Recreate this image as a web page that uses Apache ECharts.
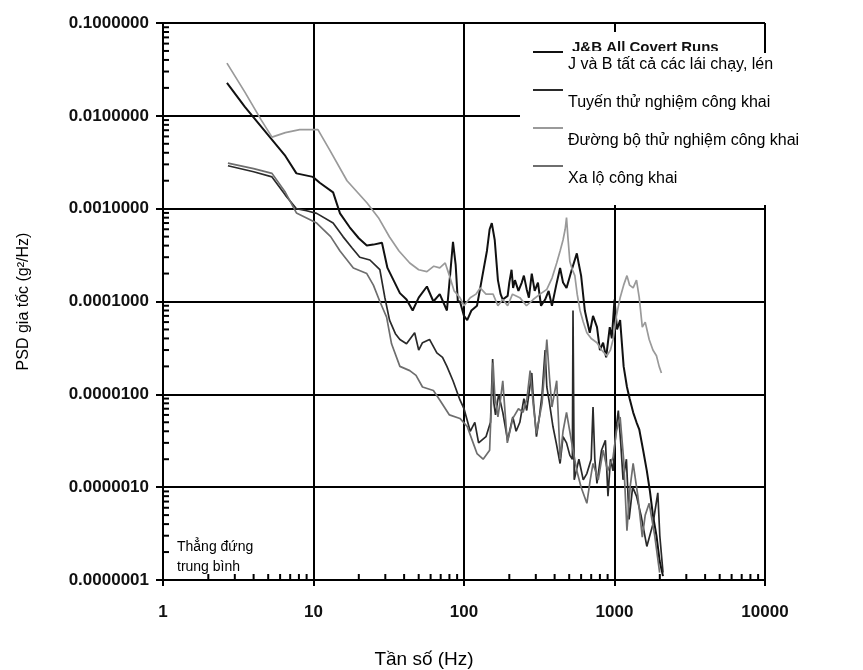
<!DOCTYPE html>
<html><head><meta charset="utf-8">
<script src="https://cdn.jsdelivr.net/npm/echarts@6/dist/echarts.min.js"></script>
<style>html,body{margin:0;padding:0;background:#fff}#c{width:863px;height:670px}</style>
</head><body><div id="c"></div>
<script>
const seriesNames = ['J và B tất cả các lái chạy, lén', 'Tuyến thử nghiệm công khai', 'Đường bộ thử nghiệm công khai', 'Xa lộ công khai'];
const hiddenTitle = 'J&B All Covert Runs';
const noteLines = ['Thẳng đứng', 'trung bình'];
const xAxisName = 'Tần số (Hz)';
const yAxisName = 'PSD gia tốc (g²/Hz)';

// [Hz, g^2/Hz]
const sJB = [[2.66,0.0226],[3.5,0.0125],[5,0.0062],[6.5,0.0037],[7.7,0.0024],[9.9,0.0022],[11,0.0019],[13.5,0.0015],[15,0.00089],[17.4,0.00063],[20,0.00048],[22.6,0.0004],[25,0.00041],[28.5,0.00043],[31,0.00023],[34,0.00017],[37.5,0.000123],[41.5,0.000105],[45.6,0.00008],[50,0.00011],[56.7,0.000145],[62.6,0.0001],[69,0.00012],[77,0.00008],[81,0.0002],[84.5,0.00044],[88,0.00025],[91,0.0001],[94,0.0001],[100,0.00007],[105,0.000063],[112,0.00008],[122,0.00009],[131,0.00017],[142,0.00035],[148,0.0006],[153,0.0007],[160,0.00046],[168,0.00017],[175,0.00012],[181,0.000105],[195,0.000115],[200,0.00016],[207,0.00022],[212,0.00014],[218,0.00017],[230,0.00013],[242,0.00016],[250,0.00019],[261,0.000135],[270,0.00011],[282,0.0002],[295,0.00013],[310,0.00016],[325,0.00009],[346,0.000105],[365,0.00013],[384,0.00009],[410,0.00015],[435,0.00023],[455,0.00016],[480,0.00014],[520,0.00022],[562,0.00033],[580,0.00025],[600,0.00019],[635,0.00008],[660,0.00006],[685,0.000046],[720,0.00007],[765,0.000053],[800,0.00003],[840,0.000036],[880,0.000025],[930,0.000053],[960,0.00004],[1000,0.000105],[1040,0.00005],[1090,0.000063],[1150,0.00002],[1210,0.000012],[1260,0.000009],[1330,0.0000064],[1400,0.000005],[1460,0.0000042],[1550,0.0000025],[1640,0.0000015],[1720,0.0000009],[1800,0.0000005],[1900,0.0000003],[1995,0.00000016],[2100,0.00000011]];

const sTuyen = [[2.7,0.0029],[4,0.0025],[5.3,0.0022],[6.5,0.0014],[7.7,0.001],[9,0.00095],[10.5,0.00089],[13.5,0.0007],[15.7,0.0005],[18,0.00038],[20.3,0.0003],[23.7,0.00028],[27.6,0.00022],[29.8,0.00011],[32,0.000063],[35,0.000045],[37.5,0.000039],[41.5,0.000035],[47,0.000046],[50,0.00003],[53,0.000036],[59,0.000039],[66,0.000028],[72,0.000025],[77,0.00002],[84.5,0.000014],[94,0.0000087],[100,0.000007],[110,0.000004],[118,0.000005],[125,0.000003],[140,0.0000035],[150,0.000005],[155,0.000024],[158,0.000008],[162,0.000006],[170,0.00001],[181,0.0000064],[195,0.0000032],[211,0.0000057],[222,0.000004],[235,0.000005],[250,0.000009],[261,0.0000067],[282,0.000017],[290,0.000008],[303,0.0000035],[318,0.000006],[330,0.00001],[346,0.00003],[355,0.000012],[370,0.000008],[390,0.0000045],[410,0.000003],[435,0.0000018],[455,0.0000035],[480,0.000003],[505,0.0000022],[525,0.000002],[530,0.00008],[540,0.0000012],[580,0.000002],[620,0.0000012],[655,0.0000014],[700,0.000002],[720,0.0000073],[740,0.000002],[765,0.0000011],[820,0.0000025],[870,0.0000032],[905,0.0000008],[940,0.000002],[978,0.0000015],[1020,0.000004],[1060,0.0000067],[1100,0.000003],[1140,0.0000012],[1200,0.000002],[1250,0.00000045],[1320,0.000001],[1400,0.0000008],[1500,0.0000005],[1640,0.00000023],[1800,0.0000004],[1940,0.00000087],[2000,0.0000003],[2100,0.00000012]];

const sDuongBo = [[2.66,0.037],[3.5,0.018],[4.5,0.009],[5.3,0.0059],[6.5,0.0066],[8.1,0.0071],[10.7,0.0071],[12.8,0.0043],[16.7,0.002],[22.7,0.00115],[27,0.0008],[32,0.000495],[37,0.00035],[43.6,0.00026],[50,0.00022],[56.7,0.00021],[63,0.00024],[69,0.00023],[75,0.00026],[80,0.00019],[86,0.00013],[94,0.00011],[100,0.00009],[110,0.00011],[120,0.00012],[128,0.00014],[140,0.00012],[156,0.00012],[168,0.00009],[181,0.000105],[195,0.00009],[210,0.00012],[235,0.00011],[260,0.00009],[288,0.000105],[320,0.00012],[355,0.000135],[385,0.00018],[413,0.00026],[435,0.00035],[455,0.00046],[470,0.0006],[480,0.0008],[490,0.0005],[505,0.00027],[525,0.00022],[545,0.00019],[565,0.00012],[590,0.00008],[620,0.00006],[655,0.000046],[700,0.00004],[765,0.000036],[820,0.00003],[890,0.000026],[940,0.00003],[978,0.000039],[1030,0.00007],[1090,0.00011],[1150,0.00015],[1210,0.00019],[1260,0.00015],[1330,0.00014],[1400,0.00017],[1460,0.00011],[1530,0.000053],[1600,0.00006],[1700,0.000039],[1800,0.00003],[1900,0.000026],[1980,0.00002],[2050,0.000017]];

const sXaLo = [[2.7,0.0031],[4,0.0027],[5.3,0.0024],[6.5,0.0015],[7.7,0.0009],[10.5,0.0007],[13,0.0005],[15,0.00035],[18.4,0.00023],[22.6,0.0002],[25,0.00015],[27.6,0.0001],[30.6,0.000068],[33,0.000035],[37.5,0.00002],[43.6,0.000018],[48,0.000016],[53,0.000012],[62.6,0.000011],[69,0.0000087],[80,0.000006],[94,0.0000055],[105,0.0000045],[115,0.000003],[122,0.0000023],[134,0.000002],[148,0.0000025],[152,0.000008],[156,0.000022],[160,0.00001],[168,0.0000057],[175,0.000009],[181,0.000014],[188,0.000006],[194,0.000003],[211,0.0000055],[230,0.000007],[247,0.0000064],[262,0.000009],[275,0.000018],[288,0.000008],[303,0.0000038],[330,0.000008],[345,0.00002],[355,0.000039],[370,0.000015],[384,0.0000073],[413,0.000014],[425,0.000005],[435,0.000002],[455,0.000004],[480,0.0000064],[520,0.000003],[562,0.0000015],[600,0.000001],[655,0.00000067],[690,0.0000012],[720,0.0000018],[780,0.0000012],[840,0.0000025],[900,0.0000015],[978,0.0000021],[1030,0.000004],[1090,0.0000057],[1150,0.000002],[1210,0.00000034],[1270,0.000001],[1330,0.0000018],[1430,0.0000008],[1530,0.00000029],[1600,0.0000005],[1700,0.00000067],[1850,0.0000003],[1995,0.00000012]];

const xMinorTicks = [2,3,4,5,6,7,8,9,20,30,40,50,60,70,80,90,200,300,400,500,600,700,800,900,2000,3000,4000,5000,6000,7000,8000,9000];
const yMinorTicks = [2e-7,3e-7,4e-7,5e-7,6e-7,7e-7,8e-7,9e-7,2e-6,3e-6,4e-6,5e-6,6e-6,7e-6,8e-6,9e-6,2e-5,3e-5,4e-5,5e-5,6e-5,7e-5,8e-5,9e-5,2e-4,3e-4,4e-4,5e-4,6e-4,7e-4,8e-4,9e-4,2e-3,3e-3,4e-3,5e-3,6e-3,7e-3,8e-3,9e-3,2e-2,3e-2,4e-2,5e-2,6e-2,7e-2,8e-2,9e-2];

const FONT = 'Liberation Sans, Arial, sans-serif';
const chart = echarts.init(document.getElementById('c'), null, {renderer: 'canvas'});

function lineSeries(name, data, color, width) {
  return {name, type: 'line', data, symbol: 'none', showSymbol: false, smooth: false,
    lineStyle: {color, width}, itemStyle: {color}, z: 2, silent: true, clip: true};
}

chart.setOption({
  animation: false,
  backgroundColor: '#fff',
  grid: {left: 163, right: 98, top: 23, bottom: 90, containLabel: false, outerBoundsMode: 'none'},
  xAxis: {
    type: 'log', logBase: 10, min: 1, max: 10000, interval: 1,
    name: xAxisName, nameLocation: 'middle', nameGap: 70,
    nameTextStyle: {fontFamily: FONT, fontSize: 19, color: '#000', padding: [0, 80, 0, 0]},
    axisLine: {show: true, onZero: false, lineStyle: {color: '#000', width: 2}},
    axisTick: {show: true, inside: false, length: 6, lineStyle: {color: '#000', width: 2}},
    axisLabel: {fontFamily: FONT, fontSize: 17, fontWeight: 'bold', color: '#111', margin: 24,
      formatter: v => String(Math.round(v))},
    splitLine: {show: true, lineStyle: {color: '#000', width: 2}},
    minorTick: {show: false}
  },
  yAxis: {
    type: 'log', logBase: 10, min: 1e-7, max: 0.1, interval: 1,
    name: yAxisName, nameLocation: 'middle', nameGap: 131, nameRotate: 90,
    nameTextStyle: {fontFamily: FONT, fontSize: 16, color: '#000'},
    axisLine: {show: true, lineStyle: {color: '#000', width: 2}},
    axisTick: {show: true, inside: false, length: 7, lineStyle: {color: '#000', width: 2}},
    axisLabel: {fontFamily: FONT, fontSize: 17, fontWeight: 'bold', color: '#111', margin: 14,
      formatter: v => Number(v).toFixed(7)},
    splitLine: {show: true, lineStyle: {color: '#000', width: 2}}
  },
  legend: {
    show: true, orient: 'vertical', left: 520, top: 26,
    padding: [0, 0, 0, 13], itemGap: -14,
    icon: 'rect', itemWidth: 30, itemHeight: 2,
    data: seriesNames,
    formatter: name => '\n' + name,
    textStyle: {fontFamily: FONT, fontSize: 16, color: '#000', lineHeight: 26},
    selectedMode: false, z: 6
  },
  graphic: [
    {type: 'rect', left: 520, top: 32, z: 3, silent: true,
      shape: {width: 343, height: 173}, style: {fill: '#fff'}},
    {type: 'rect', left: 764, top: 23, z: 3, silent: true,
      shape: {width: 2, height: 30}, style: {fill: '#000'}},
    {type: 'text', left: 572, top: 40, z: 4, silent: true,
      style: {text: hiddenTitle, font: 'bold 15px ' + FONT, fill: '#111'}},
    {type: 'rect', left: 568, top: 51, z: 5, silent: true,
      shape: {width: 180, height: 6}, style: {fill: '#fff'}},
    {type: 'text', left: 177, top: 537, z: 4, silent: true,
      style: {text: noteLines.join('\n'), font: '14px ' + FONT, fill: '#000', lineHeight: 20}}
  ],
  series: [
    lineSeries(seriesNames[0], sJB, '#111', 2),
    lineSeries(seriesNames[1], sTuyen, '#2a2a2a', 1.7),
    lineSeries(seriesNames[2], sDuongBo, '#9a9a9a', 1.7),
    lineSeries(seriesNames[3], sXaLo, '#6e6e6e', 1.7),
    {type: 'custom', name: 'xminor', silent: true, clip: false, z: 4,
      data: xMinorTicks.map(v => [v, 1e-7]),
      renderItem: (params, api) => {
        const p = api.coord([api.value(0), api.value(1)]);
        return {type: 'line', shape: {x1: p[0], y1: p[1], x2: p[0], y2: p[1] - 6},
          style: {stroke: '#000', lineWidth: 2}};
      }},
    {type: 'custom', name: 'yminor', silent: true, clip: false, z: 4,
      data: yMinorTicks.map(v => [1, v]),
      renderItem: (params, api) => {
        const p = api.coord([api.value(0), api.value(1)]);
        return {type: 'line', shape: {x1: p[0], y1: p[1], x2: p[0] + 6, y2: p[1]},
          style: {stroke: '#000', lineWidth: 2}};
      }}
  ]
});
</script></body></html>
